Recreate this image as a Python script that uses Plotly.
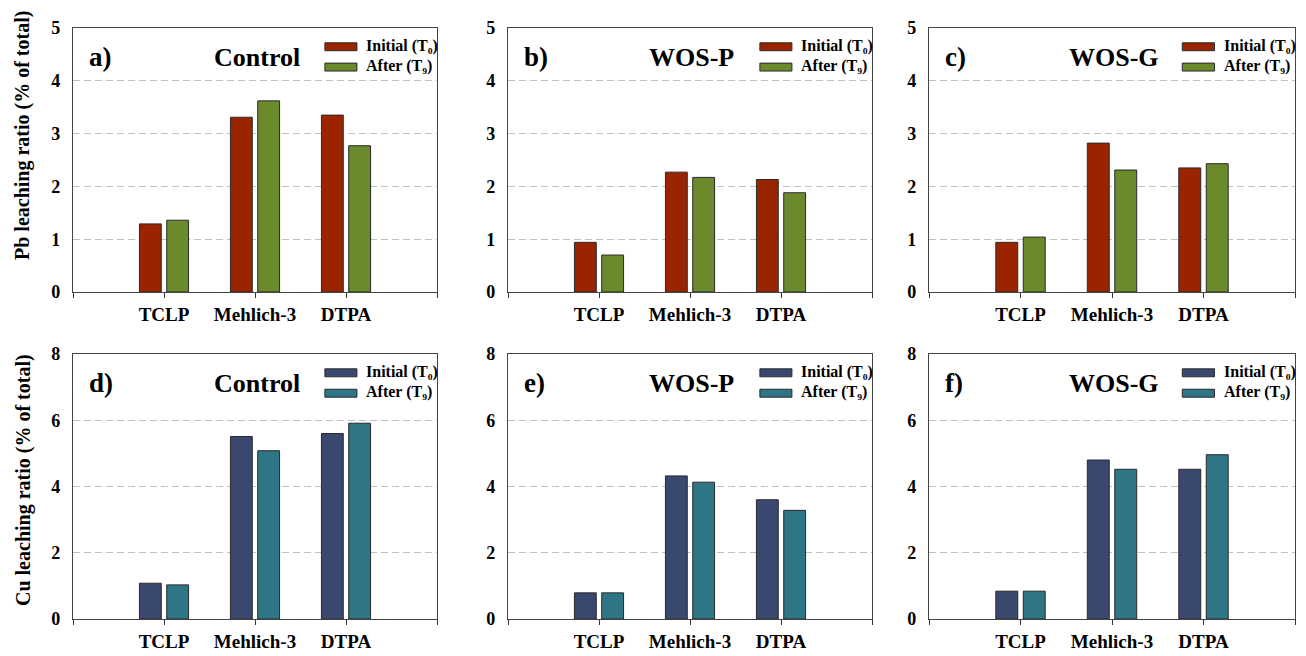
import plotly.graph_objects as go

# ---------------- data ----------------
categories = ["TCLP", "Mehlich-3", "DTPA"]

pb_control_initial = [1.29, 3.31, 3.35]
pb_control_after = [1.36, 3.62, 2.77]
pb_wosp_initial = [0.94, 2.27, 2.13]
pb_wosp_after = [0.70, 2.17, 1.88]
pb_wosg_initial = [0.94, 2.82, 2.35]
pb_wosg_after = [1.04, 2.31, 2.43]

cu_control_initial = [1.08, 5.51, 5.60]
cu_control_after = [1.03, 5.08, 5.91]
cu_wosp_initial = [0.79, 4.32, 3.60]
cu_wosp_after = [0.79, 4.13, 3.28]
cu_wosg_initial = [0.84, 4.80, 4.52]
cu_wosg_after = [0.84, 4.52, 4.96]

panel_labels = ["a)", "b)", "c)", "d)", "e)", "f)"]
panel_titles = ["Control", "WOS-P", "WOS-G", "Control", "WOS-P", "WOS-G"]
series_names = ["Initial (T₀)", "After (T₉)"]
y_titles = ["Pb leaching ratio (% of total)", "Cu leaching ratio (% of total)"]

# ---------------- styling ----------------
W, H = 1306, 656
FONT = "Liberation Serif"
pb_colors = ["#9b2400", "#6b8a2b"]
cu_colors = ["#3a4870", "#2e7686"]
xdoms_px = [(73, 437), (508, 872), (929, 1295)]
ydoms_px = [(28, 292), (354, 619)]

panels = [
    (pb_control_initial, pb_control_after),
    (pb_wosp_initial, pb_wosp_after),
    (pb_wosg_initial, pb_wosg_after),
    (cu_control_initial, cu_control_after),
    (cu_wosp_initial, cu_wosp_after),
    (cu_wosg_initial, cu_wosg_after),
]

xpos = list(range(1, len(categories) + 1))


def bfont(size):
    return dict(family=FONT, size=size, color="black", weight="bold")


fig = go.Figure()
layout = dict(
    width=W, height=H, autosize=False,
    margin=dict(l=0, r=0, t=0, b=0, pad=0),
    paper_bgcolor="white", plot_bgcolor="white",
    barmode="group", bargap=0.4, bargroupgap=0.2,
    showlegend=False,
    font=dict(family=FONT, color="black"),
)
shapes = []
annotations = []

for i, (init, after) in enumerate(panels):
    n = i + 1
    row, col = divmod(i, 3)
    colors = pb_colors if row == 0 else cu_colors
    xa = "x" if n == 1 else f"x{n}"
    ya = "y" if n == 1 else f"y{n}"
    for vals, name, c in zip((init, after), series_names, colors):
        fig.add_trace(go.Bar(
            x=xpos, y=vals, name=name, xaxis=xa, yaxis=ya,
            marker=dict(color=c, line=dict(color="#2a2a2a", width=1)),
        ))
    x0, x1 = xdoms_px[col]
    y0, y1 = ydoms_px[row]
    xkey = "xaxis" if n == 1 else f"xaxis{n}"
    ykey = "yaxis" if n == 1 else f"yaxis{n}"
    layout[xkey] = dict(
        domain=[x0 / W, x1 / W], anchor=ya, range=[0, len(categories) + 1],
        tickmode="array", tickvals=xpos, ticktext=categories,
        ticks="outside", ticklen=5, tickwidth=1, tickcolor="#333",
        minor=dict(tickmode="array", tickvals=[0, len(categories) + 1],
                   ticks="outside", ticklen=5, tickwidth=1, tickcolor="#333", showgrid=False),
        showline=True, linecolor="#444", linewidth=1.3, mirror=True,
        showgrid=False, zeroline=False, fixedrange=True, automargin=False,
        tickfont=bfont(19), ticklabelstandoff=0,
    )
    ymax, dt = (5, 1) if row == 0 else (8, 2)
    layout[ykey] = dict(
        domain=[1 - y1 / H, 1 - y0 / H], anchor=xa, range=[0, ymax], dtick=dt,
        ticks="", showline=True, linecolor="#444", linewidth=1.3, mirror=True,
        showgrid=True, gridcolor="#bcc4bc", gridwidth=1, griddash="7px,4px",
        zeroline=False, fixedrange=True, automargin=False,
        tickfont=bfont(18), ticklabelstandoff=8,
    )
    xd = f"{xa} domain"
    yd = f"{ya} domain"
    # panel letter and title
    annotations.append(dict(xref=xd, yref=yd, x=0.038, y=0.89, xanchor="left", yanchor="middle",
                            text=panel_labels[i], showarrow=False, font=bfont(27)))
    annotations.append(dict(xref=xd, yref=yd, x=0.505, y=0.89, xanchor="center", yanchor="middle",
                            text=panel_titles[i], showarrow=False, font=bfont(26)))
    # per-panel legend
    for k, (c, name) in enumerate(zip(colors, series_names)):
        ytop = 0.944 - k * 0.077
        shapes.append(dict(type="rect", xref=xd, yref=yd, x0=0.692, x1=0.780,
                           y0=ytop - 0.03, y1=ytop, fillcolor=c,
                           line=dict(color="#2a2a2a", width=1)))
        annotations.append(dict(xref=xd, yref=yd, x=0.80, y=ytop - 0.012,
                                xanchor="left", yanchor="middle", text=name, showarrow=False,
                                font=bfont(16)))

# y-axis titles
annotations.append(dict(xref="paper", yref="paper", x=23 / W, y=1 - 136 / H, xanchor="center",
                        yanchor="middle", textangle=-90, text=y_titles[0], showarrow=False,
                        font=bfont(20)))
annotations.append(dict(xref="paper", yref="paper", x=23 / W, y=1 - 480 / H, xanchor="center",
                        yanchor="middle", textangle=-90, text=y_titles[1], showarrow=False,
                        font=bfont(20)))

layout["shapes"] = shapes
layout["annotations"] = annotations
fig.update_layout(**layout)
fig.write_html("out.html", config={"displayModeBar": False},
               post_script="document.body.style.margin='0';")
